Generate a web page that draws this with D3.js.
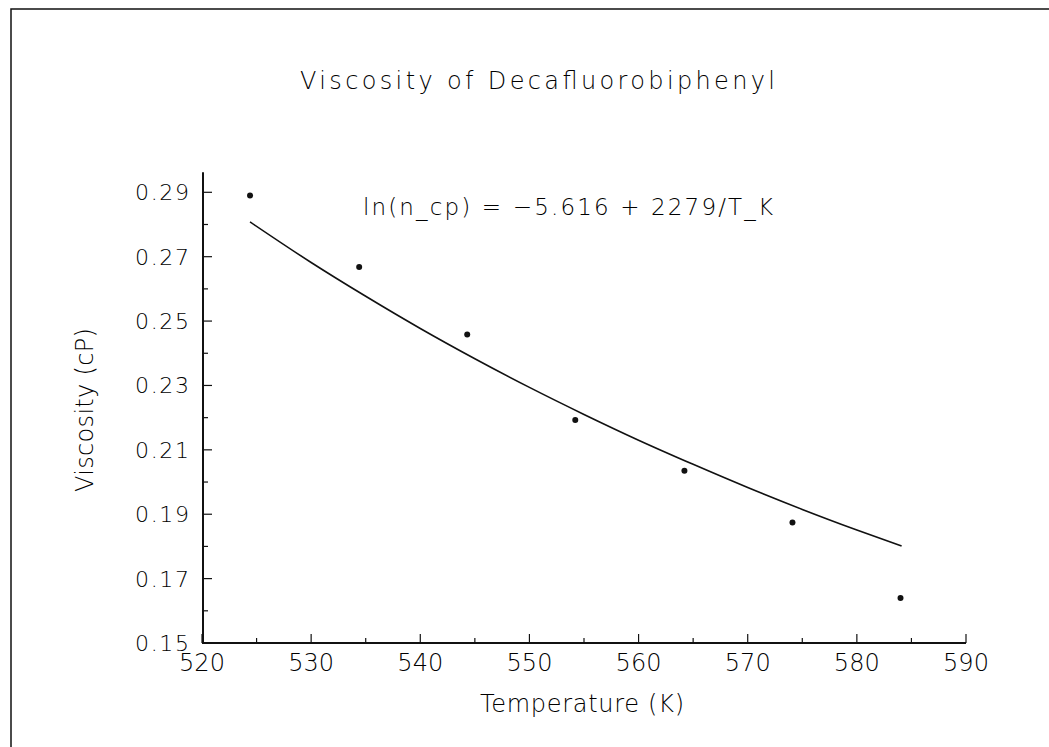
<!DOCTYPE html>
<head>
<meta charset="utf-8">
<style>
body { margin: 0; background: #fff; }
text { font-family: "DejaVu Sans", Roboto, sans-serif; font-weight: 200; fill: #000; }
</style>
</head>
<body>
<script src="https://d3js.org/d3.v7.min.js"></script>
<script>

// measured points
var temps = [524.4, 534.4, 544.3, 554.2, 564.2, 574.1, 584.0];
var viscosity = [0.289, 0.2668, 0.2458, 0.2193, 0.2035, 0.1874, 0.164];

// fitted curve
var fitTemps = [524.4, 530, 535, 540, 545, 550, 555, 560, 565, 570, 575, 580, 584.1];
var fitVisc = [0.2808, 0.2682, 0.2577, 0.2477, 0.2383, 0.2294, 0.2210, 0.2130, 0.2055, 0.1983, 0.1915, 0.1851, 0.1801];

var xMajor = [520, 530, 540, 550, 560, 570, 580, 590];
var yMajor = [0.15, 0.17, 0.19, 0.21, 0.23, 0.25, 0.27, 0.29];

var width = 1049, height = 747;

var x = d3.scaleLinear().domain([520, 590]).range([202, 966]);
var y = d3.scaleLinear().domain([0.15, 0.29]).range([643, 192.3]);

var svg = d3.select("body").append("svg")
    .attr("width", width)
    .attr("height", height);

// scan frame (top and left edges only)
svg.append("path")
    .attr("d", "M11,747V9H1049")
    .attr("fill", "none")
    .attr("stroke", "#111")
    .attr("stroke-width", 1.5);

// title
svg.append("text")
    .attr("x", 300).attr("y", 89)
    .attr("textLength", 475).attr("lengthAdjust", "spacing")
    .style("font-size", "24px")
    .text("Viscosity of Decafluorobiphenyl");

// axes lines
svg.append("line")
    .attr("x1", x(520)).attr("x2", x(590))
    .attr("y1", y(0.15)).attr("y2", y(0.15))
    .attr("stroke", "#111").attr("stroke-width", 2);
svg.append("line")
    .attr("x1", x(520) + 1).attr("x2", x(520) + 1)
    .attr("y1", y(0.15)).attr("y2", y(0.2962))
    .attr("stroke", "#111").attr("stroke-width", 2);

// x ticks, pointing up
var xTicks = d3.range(520, 591, 5);
svg.selectAll(".xt").data(xTicks).enter().append("line")
    .attr("x1", function(d) { return x(d); })
    .attr("x2", function(d) { return x(d); })
    .attr("y1", y(0.15))
    .attr("y2", function(d) { return y(0.15) - (d % 10 == 0 ? 9 : 5); })
    .attr("stroke", "#111").attr("stroke-width", 1.2);

svg.selectAll(".xl").data(xMajor).enter().append("text")
    .attr("x", function(d) { return x(d); })
    .attr("y", 671)
    .attr("text-anchor", "middle")
    .attr("textLength", 46).attr("lengthAdjust", "spacing")
    .style("font-size", "24px")
    .text(function(d) { return d; });

// y ticks, pointing right
var yTicks = d3.range(0.15, 0.295, 0.01);
svg.selectAll(".yt").data(yTicks).enter().append("line")
    .attr("x1", x(520))
    .attr("x2", function(d, i) { return x(520) + (i % 2 == 0 ? 10 : 6); })
    .attr("y1", function(d) { return y(d); })
    .attr("y2", function(d) { return y(d); })
    .attr("stroke", "#111").attr("stroke-width", 1.2);

svg.selectAll(".yl").data(yMajor).enter().append("text")
    .attr("x", 135)
    .attr("y", function(d) { return y(d) + 8; })
    .attr("textLength", 54).attr("lengthAdjust", "spacing")
    .style("font-size", "22px")
    .text(function(d) { return d.toFixed(2); });

// axis titles
svg.append("text")
    .attr("x", 480).attr("y", 712)
    .attr("textLength", 204).attr("lengthAdjust", "spacing")
    .style("font-size", "24px")
    .text("Temperature (K)");

svg.append("text")
    .attr("transform", "translate(93,492) rotate(-90)")
    .attr("textLength", 164).attr("lengthAdjust", "spacing")
    .style("font-size", "24px")
    .text("Viscosity (cP)");

// equation
svg.append("text")
    .attr("x", 363).attr("y", 215)
    .attr("textLength", 410).attr("lengthAdjust", "spacing")
    .style("font-size", "23px")
    .text("ln(n_cp) = \u22125.616 + 2279/T_K");

// fitted curve
var fit = fitTemps.map(function(t, i) { return {t: t, v: fitVisc[i]}; });
var line = d3.line()
    .x(function(d) { return x(d.t); })
    .y(function(d) { return y(d.v); })
    .curve(d3.curveMonotoneX);
svg.append("path")
    .datum(fit)
    .attr("fill", "none")
    .attr("stroke", "#111")
    .attr("stroke-width", 1.6)
    .attr("d", line);

// data points
svg.selectAll(".pt").data(temps).enter().append("circle")
    .attr("cx", function(d) { return x(d); })
    .attr("cy", function(d, i) { return y(viscosity[i]); })
    .attr("r", 3)
    .attr("fill", "#111");

</script>
</body>
